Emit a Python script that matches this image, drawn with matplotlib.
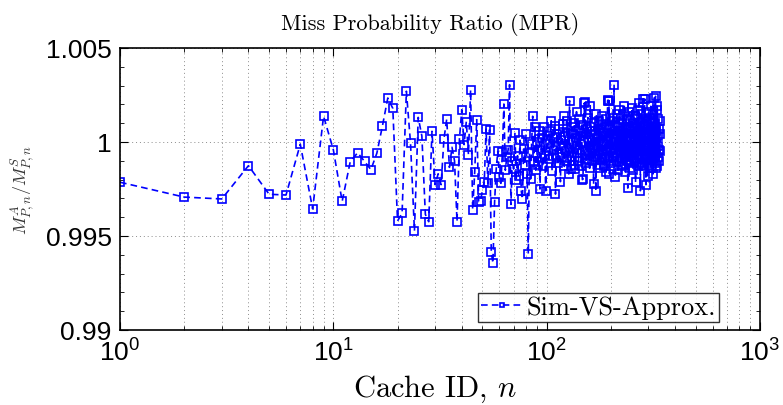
import matplotlib
matplotlib.use("Agg")
import matplotlib.pyplot as plt
from matplotlib.ticker import LogLocator, MultipleLocator, NullFormatter

plt.rcParams['font.family'] = ['Liberation Sans', 'DejaVu Sans']
plt.rcParams['mathtext.fontset'] = 'cm'
plt.rcParams['axes.formatter.use_mathtext'] = True

# ---- data: cache IDs and miss-probability ratios ----
ratio_1_50 = [
    0.99786, 0.99707, 0.99697, 0.99874, 0.99722, 0.99718, 0.99988, 0.99644, 1.00137, 0.99959,
    0.99684, 0.99895, 0.99943, 0.99897, 0.99853, 0.99941, 1.00087, 1.00234, 1.00179, 0.99580,
    0.99621, 1.00270, 0.99995, 0.99528, 1.00131, 1.00032, 0.99615, 0.99576, 1.00057, 0.99773,
    0.99831, 0.99773, 1.00016, 1.00122, 0.99865, 0.99972, 0.99899, 0.99576, 1.00016, 1.00172,
    0.99986, 1.00108, 0.99932, 1.00277, 0.99640, 0.99842, 1.00119, 0.99683, 0.99686, 0.99745,
]
ratio_51_100 = [
    0.99789, 1.00069, 0.99780, 1.00065, 0.99413, 0.99356, 0.99679, 0.99856, 0.99950, 0.99812,
    0.99780, 0.99945, 1.00202, 0.99850, 0.99918, 0.99960, 1.00305, 0.99668, 0.99900, 0.99856,
    1.00050, 0.99800, 0.99927, 0.99820, 1.00010, 0.99741, 0.99697, 0.99963, 0.99880, 1.00040,
    0.99830, 0.99404, 0.99940, 0.99803, 0.99990, 1.00137, 0.99900, 1.00078, 0.99850, 0.99998,
    0.99880, 1.00060, 0.99750, 0.99960, 1.00020, 0.99870, 1.00080, 0.99930, 0.99741, 1.00010,
]
ratio_101_200 = [
    1.00034, 0.99910, 0.99927, 1.00060, 1.00113, 0.99847, 1.00020, 0.99960, 1.00085, 0.99723,
    0.99980, 1.00045, 0.99890, 1.00070, 0.99940, 0.99789, 1.00010, 0.99920, 1.00095, 1.00140,
    0.99870, 1.00030, 0.99950, 1.00110, 0.99900, 1.00050, 0.99830, 1.00220, 0.99970, 0.99856,
    1.00080, 0.99920, 1.00040, 0.99880, 1.00100, 0.99856, 1.00020, 1.00161, 0.99940, 1.00060,
    0.99900, 1.00120, 0.99960, 1.00030, 0.99870, 1.00090, 0.99800, 0.99803, 1.00050, 1.00206,
    0.99930, 1.00211, 0.99890, 1.00070, 0.99950, 1.00130, 0.99910, 1.00010, 0.99860, 1.00193,
    0.99940, 1.00080, 0.99900, 1.00040, 0.99970, 0.99777, 1.00100, 0.99920, 1.00060, 0.99738,
    1.00150, 0.99950, 1.00020, 0.99880, 1.00110, 0.99930, 1.00070, 0.99860, 1.00000, 1.00090,
    0.99910, 1.00140, 0.99950, 1.00030, 0.99870, 1.00080, 0.99990, 0.99920, 1.00120, 0.99840,
    1.00050, 0.99960, 1.00220, 1.00223, 0.99900, 1.00220, 0.99830, 1.00070, 0.99950, 1.00110,
]
ratio_201_340 = [
    0.99890, 1.00040, 0.99970, 1.00130, 0.99920, 1.00060, 1.00305, 0.99940, 1.00090, 0.99812,
    1.00020, 0.99960, 1.00150, 0.99900, 1.00080, 0.99850, 1.00030, 0.99980, 1.00170, 0.99930,
    1.00060, 0.99870, 1.00100, 0.99950, 1.00010, 0.99910, 1.00140, 0.99880, 1.00050, 0.99970,
    1.00190, 0.99920, 1.00070, 0.99840, 1.00030, 0.99960, 1.00120, 0.99900, 1.00080, 0.99755,
    1.00040, 0.99930, 1.00160, 0.99890, 1.00060, 0.99980, 1.00110, 0.99860, 1.00020, 0.99950,
    1.00180, 0.99920, 1.00070, 0.99850, 1.00100, 0.99970, 1.00030, 0.99900, 1.00140, 0.99940,
    0.99785, 1.00080, 0.99960, 1.00120, 0.99910, 1.00050, 0.99870, 1.00170, 0.99990, 1.00206,
    0.99930, 1.00060, 0.99890, 1.00100, 0.99741, 1.00040, 0.99950, 1.00150, 0.99880, 1.00070,
    0.99920, 1.00110, 1.00230, 0.99960, 1.00030, 0.99870, 1.00090, 1.00229, 0.99940, 1.00060,
    0.99910, 0.99773, 1.00120, 0.99980, 1.00040, 0.99890, 0.99820, 1.00080, 0.99950, 1.00160,
    0.99930, 1.00050, 0.99880, 1.00130, 0.99970, 1.00020, 0.99900, 1.00190, 0.99860, 1.00070,
    0.99940, 1.00110, 0.99910, 1.00040, 0.99830, 1.00150, 0.99960, 1.00080, 0.99920, 1.00236,
    0.99950, 1.00100, 0.99890, 1.00243, 0.99860, 1.00060, 0.99940, 1.00170, 0.99870, 1.00190,
    0.99980, 1.00030, 0.99920, 1.00120, 0.99960, 1.00070, 0.99900, 1.00110, 0.99950, 1.00040,
]
mpr_ratio = ratio_1_50 + ratio_51_100 + ratio_101_200 + ratio_201_340
cache_id = list(range(1, len(mpr_ratio) + 1))

title_text = "Miss Probability Ratio (MPR)"
xlabel_text = r"Cache ID, $n$"
ylabel_text = r"$M^{A}_{P,n}/M^{S}_{P,n}$"
legend_label = "Sim-VS-Approx."
y_ticks = [0.99, 0.995, 1.0, 1.005]
y_ticklabels = ["0.99", "0.995", "1", "1.005"]

fig = plt.figure(figsize=(7.83, 4.06), dpi=100)
ax = fig.add_axes([120/783, 1-331/406, 640/783, 282/406])

ax.plot(cache_id, mpr_ratio, linestyle=(0, (4, 2.5)), color='#0000ff', linewidth=1.2,
        marker='s', markersize=6, markerfacecolor='none', markeredgecolor='#0000ff',
        markeredgewidth=1.2, label=legend_label)

ax.set_xscale('log')
ax.set_xlim(1, 1000)
ax.set_ylim(0.99, 1.005)
ax.set_yticks(y_ticks)
ax.set_yticklabels(y_ticklabels)
ax.yaxis.set_minor_locator(MultipleLocator(0.001))
ax.xaxis.set_major_locator(LogLocator(base=10, numticks=10))
ax.xaxis.set_minor_locator(LogLocator(base=10, subs=range(2, 10), numticks=20))
ax.xaxis.set_minor_formatter(NullFormatter())

ax.tick_params(which='both', direction='in', top=True, right=True, color='black')
ax.tick_params(which='major', length=6, width=0.8, labelsize=19, pad=6)
ax.tick_params(which='minor', length=3, width=0.6)

gridkw = dict(color='0.55', linestyle=(0, (1, 3)), linewidth=0.7)
ax.xaxis.grid(True, which='major', **gridkw)
ax.xaxis.grid(True, which='minor', **gridkw)
ax.yaxis.grid(True, which='major', **gridkw)
ax.set_axisbelow(True)
for s in ax.spines.values():
    s.set_linewidth(1.2)

ax.set_title(title_text, fontfamily='cmr10', fontsize=16, pad=14, x=0.484)
ax.set_xlabel(xlabel_text, fontfamily='cmr10', fontsize=22)
ax.xaxis.set_label_coords(0.492, -0.150)
ax.set_ylabel(ylabel_text, fontsize=13, color='0.2', labelpad=6)

leg = ax.legend(loc='lower right', bbox_to_anchor=(0.936, 0.028), frameon=True, fancybox=False,
                edgecolor='black', prop={'family': 'cmr10', 'size': 19}, handlelength=1.6,
                borderpad=0.1, handletextpad=0.15, borderaxespad=0.0, markerscale=0.55)
leg.get_frame().set_linewidth(1.0)

fig.savefig('out.png', dpi=100)
